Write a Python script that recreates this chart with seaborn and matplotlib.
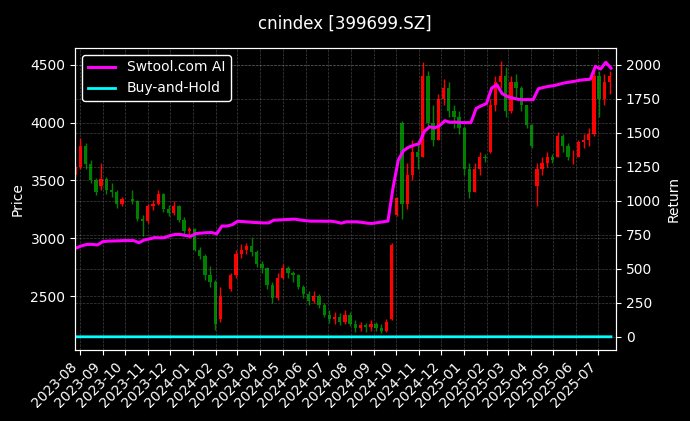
import numpy as np
import pandas as pd
import seaborn as sns
import matplotlib.pyplot as plt
import matplotlib.dates as mdates

TITLE = "cnindex [399699.SZ]"

# weekly bars (Friday of each week), NaN = market closed the whole week
WEEKS = pd.date_range("2023-07-28", "2025-07-18", freq="W-FRI")

OPEN = [3550, 3620, 3800, 3640, 3500, 3450, 3510, 3420, 3400, 3300, np.nan, 3340, 3320, 3170, 3150, 3280,
        3300, 3380, 3250, 3220, 3280, 3160, 3060, 3080, 2900, 2850, 2680, 2620, 2300, np.nan, 2560, 2680,
        2860, 2900, 2930, 2880, 2780, 2740, 2600, 2480, 2660, 2740, 2700, 2680, 2580, 2520, 2460, 2500,
        2420, 2340, 2300, 2320, 2280, 2340, 2260, 2220, 2250, 2230, 2260, 2220, 2200, 2300, 3200, 4000,
        3300, 3550, 3750, 3700, 4400, 4000, 3850, 4200, 4300, 4100, 4050, 3950, 3600, 3400, 3600, 3700,
        3750, 4150, 4350, 4400, 4100, 4350, 4300, 4150, 3980, 3450, 3600, 3650, 3700, 3700, 3880, 3800,
        3700, 3700, 3830, 3850, 3900, 4400, 4200, 4350]
HIGH = [3650, 3870, 3820, 3680, 3520, 3650, 3530, 3480, 3420, 3360, np.nan, 3420, 3330, 3200, 3300, 3330,
        3420, 3390, 3290, 3320, 3290, 3180, 3100, 3090, 2920, 2860, 2760, 2640, 2580, np.nan, 2700, 2900,
        2950, 2960, 3010, 2900, 2800, 2750, 2620, 2700, 2780, 2760, 2720, 2690, 2600, 2540, 2540, 2520,
        2440, 2380, 2360, 2350, 2380, 2360, 2290, 2280, 2270, 2290, 2280, 2260, 2300, 2960, 3360, 4010,
        3650, 3850, 3850, 4520, 4450, 4150, 4250, 4380, 4350, 4150, 4100, 3970, 3650, 3650, 3750, 3730,
        4200, 4400, 4530, 4480, 4400, 4420, 4320, 4150, 3990, 3650, 3700, 3750, 3730, 3920, 3900, 3820,
        3760, 3850, 3900, 3950, 4470, 4450, 4420, 4450]
LOW = [3520, 3600, 3600, 3480, 3370, 3420, 3380, 3360, 3260, 3280, np.nan, 3300, 3150, 3020, 3130, 3240,
       3290, 3230, 3190, 3200, 3140, 3030, 3000, 2890, 2820, 2640, 2580, 2210, 2280, np.nan, 2540, 2660,
       2830, 2860, 2850, 2750, 2700, 2560, 2440, 2470, 2650, 2660, 2620, 2560, 2480, 2420, 2440, 2400,
       2320, 2270, 2260, 2250, 2260, 2240, 2190, 2200, 2190, 2200, 2200, 2180, 2190, 2290, 3190, 3170,
       3250, 3500, 3600, 3700, 3950, 3800, 3850, 4150, 4050, 3950, 3900, 3550, 3350, 3400, 3550, 3660,
       3740, 4100, 4300, 4050, 4080, 4200, 4100, 3950, 3780, 3280, 3550, 3620, 3650, 3700, 3750, 3680,
       3640, 3700, 3780, 3800, 3880, 4050, 4150, 4250]
CLOSE = [3620, 3800, 3640, 3500, 3400, 3510, 3420, 3400, 3300, 3340, np.nan, 3320, 3170, 3150, 3280, 3300,
         3380, 3250, 3220, 3280, 3160, 3060, 3080, 2900, 2850, 2680, 2620, 2260, 2500, np.nan, 2680, 2860,
         2900, 2930, 2880, 2780, 2740, 2600, 2480, 2660, 2740, 2700, 2680, 2580, 2520, 2460, 2500, 2420,
         2340, 2300, 2320, 2280, 2340, 2260, 2220, 2250, 2230, 2260, 2220, 2200, 2280, 2940, 3350, 3300,
         3550, 3750, 3700, 4400, 4000, 3850, 4200, 4300, 4100, 4050, 3950, 3600, 3400, 3600, 3700, 3690,
         4150, 4350, 4400, 4100, 4350, 4300, 4150, 3980, 3800, 3600, 3650, 3700, 3680, 3880, 3800, 3700,
         3700, 3830, 3850, 3900, 4400, 4200, 4350, 4400]

AI_RETURN = [655, 670, 680, 680, 676, 700, 704, 705, 706, 708, 708, 708, 692, 712, 720, 730,
             728, 730, 745, 753, 753, 745, 740, 760, 763, 766, 767, 758, 815, 815, 825, 850,
             848, 845, 842, 840, 838, 838, 858, 860, 862, 864, 866, 860, 855, 851, 851, 851,
             850, 851, 845, 836, 846, 846, 846, 842, 836, 834, 840, 846, 851, 1100, 1300, 1370,
             1395, 1410, 1420, 1510, 1545, 1537, 1555, 1590, 1578, 1580, 1576, 1576, 1576, 1680, 1700, 1716,
             1830, 1855, 1790, 1768, 1757, 1748, 1745, 1745, 1745, 1825, 1835, 1843, 1848, 1858, 1868, 1874,
             1880, 1888, 1892, 1895, 1990, 1970, 2020, 1977]

df = pd.DataFrame({"date": WEEKS, "open": OPEN, "high": HIGH, "low": LOW,
                   "close": CLOSE, "ai": AI_RETURN})
df["buy_hold"] = df["close"].ffill() / df["close"].iloc[0] - 1

plt.style.use("dark_background")
fig, ax = plt.subplots(figsize=(6.9, 4.21), dpi=100)
fig.subplots_adjust(left=0.109, right=0.893, top=0.886, bottom=0.169)

grid_kw = dict(linestyle="--", linewidth=0.5, color="gray", alpha=0.5)

# candlesticks (red = up, green = down)
c = df.dropna(subset=["open"])
colors = np.where(c["close"] >= c["open"], "red", "green")
xpos = c["date"] - pd.Timedelta(days=2)
ax.vlines(xpos, c["low"], c["high"], colors=colors, linewidth=1)
ax.bar(xpos, (c["close"] - c["open"]).abs(), bottom=c[["open", "close"]].min(axis=1),
       width=4.5, color=colors, linewidth=0)

ax.set_ylabel("Price")
ax.set_ylim(2035, 4645)
ax.set_xlim(pd.Timestamp("2023-07-26"), pd.Timestamp("2025-07-25"))
ax.grid(True, **grid_kw)
ax.xaxis.set_major_locator(mdates.MonthLocator())
ax.xaxis.set_major_formatter(mdates.DateFormatter("%Y-%m"))
plt.setp(ax.get_xticklabels(), rotation=45, ha="right")

ax2 = ax.twinx()
sns.lineplot(data=df, x="date", y="ai", ax=ax2, color="magenta", linewidth=2.2, label="Swtool.com AI")
sns.lineplot(data=df, x="date", y="buy_hold", ax=ax2, color="cyan", linewidth=2, label="Buy-and-Hold")
ax2.set_ylabel("Return")
ax2.set_xlabel("")
ax.set_xlabel("")
ax2.set_ylim(-96, 2125)
ax2.grid(True, axis="y", **grid_kw)
ax2.legend(loc="upper left", facecolor="black", edgecolor="white", framealpha=1)

fig.suptitle(TITLE, fontsize=12, y=0.965)
fig.savefig("out.png", dpi=100)
